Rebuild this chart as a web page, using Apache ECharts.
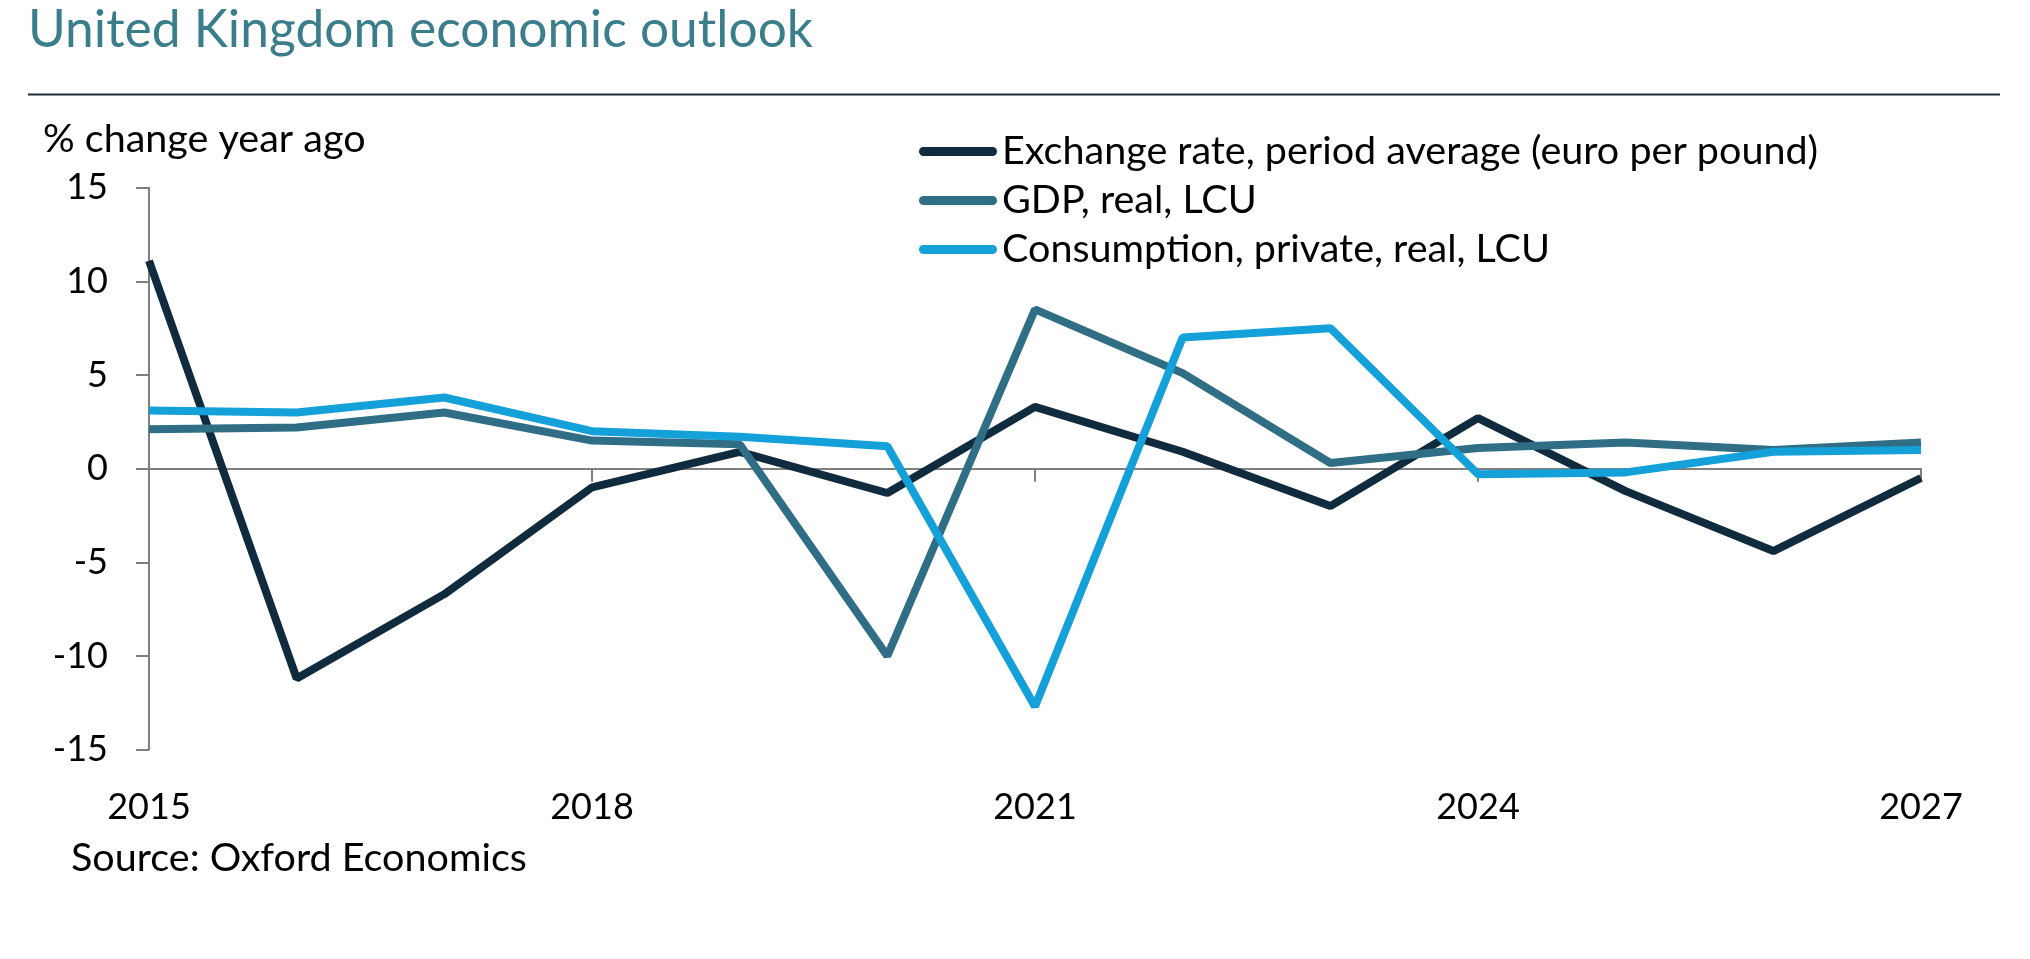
<!DOCTYPE html>
<html>
<head>
<meta charset="utf-8">
<script src="https://cdn.jsdelivr.net/npm/echarts@6/dist/echarts.min.js"></script>
<style>
html,body{margin:0;padding:0;background:#fff;}
#chart{width:2030px;height:959px;}
</style>
</head>
<body>
<div id="chart"></div>
<script>
const years = ['2015','2016','2017','2018','2019','2020','2021','2022','2023','2024','2025','2026','2027'];
const exchangeRate = [11.1, -11.2, -6.7, -1.0, 0.9, -1.3, 3.3, 0.9, -2.0, 2.7, -1.2, -4.4, -0.5];
const gdpReal = [2.1, 2.2, 3.0, 1.5, 1.3, -10.0, 8.5, 5.1, 0.3, 1.1, 1.4, 1.0, 1.4];
const consumptionReal = [3.1, 3.0, 3.8, 2.0, 1.7, 1.2, -12.7, 7.0, 7.5, -0.3, -0.2, 0.9, 1.0];
const seriesNames = ['Exchange rate, period average (euro per pound)', 'GDP, real, LCU', 'Consumption, private, real, LCU'];
const seriesColors = ['#0f2b3d', '#2f6e85', '#14a0d8'];
const titleText = 'United Kingdom economic outlook';
const unitText = '% change year ago';
const sourceText = 'Source: Oxford Economics';

const FONT = 'Lato';
const chart = echarts.init(document.getElementById('chart'));
const capsule = 'path://M4.5,0 L73.5,0 A4.5,4.5 0 0 1 73.5,9 L4.5,9 A4.5,4.5 0 0 1 4.5,0 Z';

const option = {
  backgroundColor: '#ffffff',
  animation: false,
  textStyle: { fontFamily: FONT },
  grid: { left: 149, right: 109, top: 187.7, bottom: 209.4, containLabel: false },
  legend: {
    orient: 'vertical',
    left: 919,
    top: 127,
    padding: 0,
    itemWidth: 78,
    itemHeight: 9,
    itemGap: 0,
    icon: capsule,
    textStyle: { fontFamily: FONT, fontSize: 39.5, color: '#000', lineHeight: 49 },
    data: seriesNames
  },
  xAxis: [
    {
      type: 'category',
      data: years,
      boundaryGap: false,
      axisLine: { onZero: true, lineStyle: { color: '#7f7f7f', width: 2 } },
      axisTick: { show: true, interval: 2, length: 13, lineStyle: { color: '#7f7f7f', width: 2 } },
      axisLabel: { show: false },
      splitLine: { show: false }
    },
    {
      type: 'category',
      data: years,
      boundaryGap: false,
      position: 'bottom',
      axisLine: { show: false, onZero: false },
      axisTick: { show: false },
      axisLabel: { show: true, interval: 2, margin: 40, fontFamily: FONT, fontSize: 36, color: '#000' },
      splitLine: { show: false }
    }
  ],
  yAxis: {
    type: 'value',
    min: -15, max: 15, interval: 5,
    axisLine: { show: true, lineStyle: { color: '#7f7f7f', width: 2 } },
    axisTick: { show: true, length: 13, lineStyle: { color: '#7f7f7f', width: 2 } },
    axisLabel: { margin: 41, fontFamily: FONT, fontSize: 36, color: '#000' },
    splitLine: { show: false }
  },
  series: [
    { name: seriesNames[0], type: 'line', data: exchangeRate, xAxisIndex: 0, showSymbol: false, symbol: 'none', lineStyle: { width: 8, color: seriesColors[0] }, itemStyle: { color: seriesColors[0] }, z: 3 },
    { name: seriesNames[1], type: 'line', data: gdpReal, xAxisIndex: 0, showSymbol: false, symbol: 'none', lineStyle: { width: 8, color: seriesColors[1] }, itemStyle: { color: seriesColors[1] }, z: 4 },
    { name: seriesNames[2], type: 'line', data: consumptionReal, xAxisIndex: 0, showSymbol: false, symbol: 'none', lineStyle: { width: 8, color: seriesColors[2] }, itemStyle: { color: seriesColors[2] }, z: 5 }
  ],
  graphic: [
    { type: 'text', left: 28, top: 4, style: { text: titleText, fontFamily: FONT, fontSize: 51.5, fill: '#3a7d8b' } },
    { type: 'rect', shape: { x: 28, y: 93.5, width: 1972, height: 2 }, style: { fill: '#1e2b33' } },
    { type: 'text', left: 43, top: 119, style: { text: unitText, fontFamily: FONT, fontSize: 39.5, fill: '#000' } },
    { type: 'text', left: 71, top: 838, style: { text: sourceText, fontFamily: FONT, fontSize: 39.5, fill: '#000' } }
  ]
};
chart.setOption(option);
</script>
</body>
</html>
